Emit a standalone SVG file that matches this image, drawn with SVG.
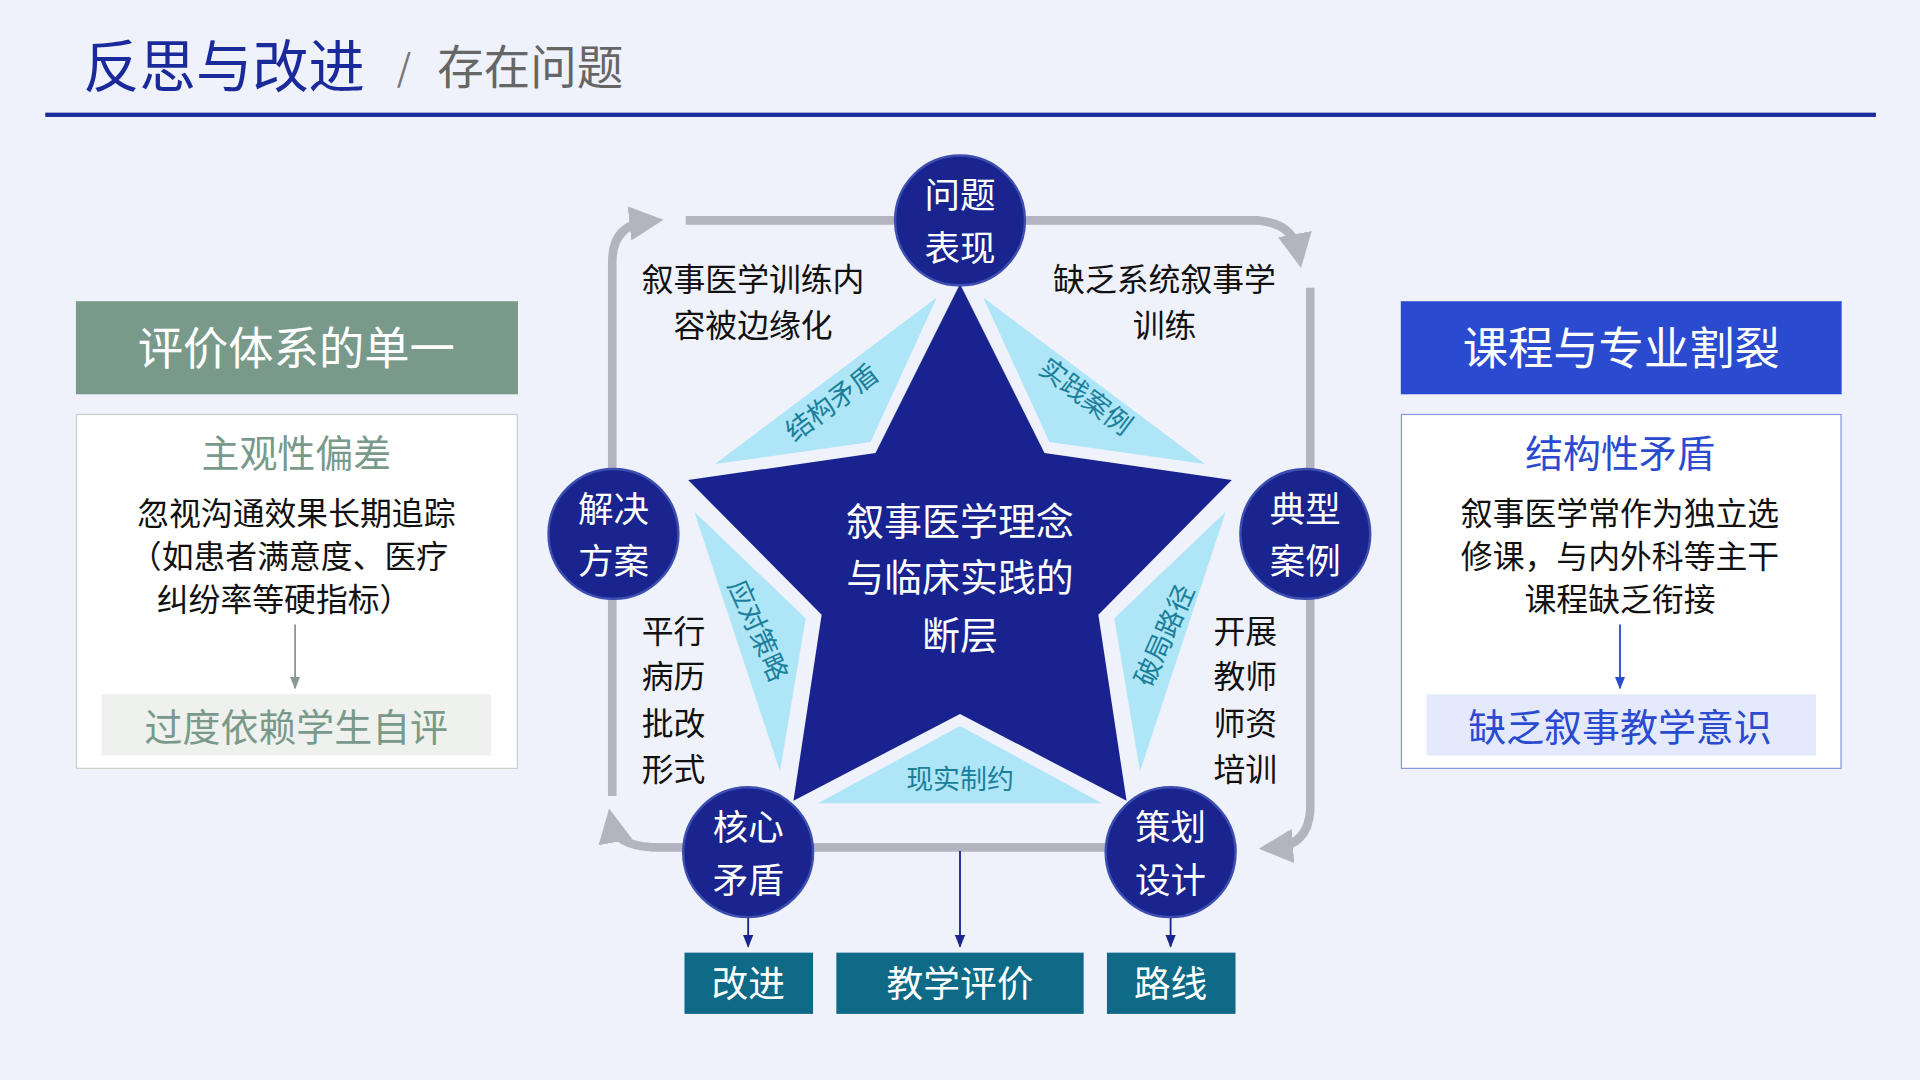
<svg xmlns="http://www.w3.org/2000/svg" width="1920" height="1080" viewBox="0 0 1920 1080">
<defs>
<style>
text{font-family:"Noto Sans CJK SC","Noto Sans",sans-serif;}
.w{fill:#fff;text-anchor:middle;}
.k{fill:#111;text-anchor:middle;font-size:26px;}
.t{fill:#1c7f9a;font-size:22px;text-anchor:middle;}
.node circle{fill:#19248e;stroke:#3d4db0;stroke-width:2;}
.node text{fill:#fff;font-size:29px;text-anchor:middle;}
.loop{fill:none;stroke:#b3b4bf;stroke-width:7;}
.sl{fill:#aee6f7;}
.bx{fill:#0e6a86;}
</style>
<marker id="ga" viewBox="0 0 10 10" refX="5" refY="5" markerWidth="4" markerHeight="4" orient="auto" markerUnits="strokeWidth"><path d="M0,0 L10,5 L0,10 Z" fill="#b3b4bf"/></marker>
<marker id="na" viewBox="0 0 10 10" refX="9" refY="5" markerWidth="7" markerHeight="7" orient="auto"><path d="M0,1 L10,5 L0,9 Z" fill="#1a2590"/></marker>
<marker id="gr" viewBox="0 0 10 10" refX="9" refY="5" markerWidth="7" markerHeight="7" orient="auto"><path d="M0,1 L10,5 L0,9 Z" fill="#8a9a92"/></marker>
<marker id="bl" viewBox="0 0 10 10" refX="9" refY="5" markerWidth="7" markerHeight="7" orient="auto"><path d="M0,1 L10,5 L0,9 Z" fill="#2a4bd0"/></marker>
</defs>
<rect width="1920" height="1080" fill="#eff1fb"/>
<g transform="scale(1.22449)">
<g id="title">
<text x="68" y="71" font-size="46" fill="#1a2a9a">反思与改进</text>
<text x="324" y="66" font-size="30" fill="#777">/</text>
<text x="357" y="69" font-size="38" fill="#666">存在问题</text>
<rect x="37" y="92" width="1495" height="3.5" fill="#1a2a9a"/>
</g>

<g id="left-panel">
<rect x="62" y="246" width="361" height="76" fill="#799a8b"/>
<text class="w" x="242" y="298" font-size="37">评价体系的单一</text>
<rect x="62.5" y="338.5" width="360" height="289" fill="#fff" stroke="#c9d0cc"/>
<text x="242" y="381" font-size="31" fill="#799a8b" text-anchor="middle">主观性偏差</text>
<text class="k" x="242" y="429" font-size="28">忽视沟通效果长期追踪</text>
<text class="k" x="236" y="464" font-size="28">（如患者满意度、医疗</text>
<text class="k" x="232" y="499" font-size="28">纠纷率等硬指标）</text>
<line x1="241" y1="510" x2="241" y2="562" stroke="#8a9a92" stroke-width="1.5" marker-end="url(#gr)"/>
<rect x="83" y="567" width="318" height="50" fill="#eef1ee"/>
<text x="242" y="605" font-size="31" fill="#799a8b" text-anchor="middle">过度依赖学生自评</text>
</g>

<g id="right-panel">
<rect x="1144" y="246" width="360" height="76" fill="#2a4bd0"/>
<text class="w" x="1324" y="298" font-size="37">课程与专业割裂</text>
<rect x="1144.5" y="338.5" width="359" height="289" fill="#fff" stroke="#8898d8"/>
<text x="1323" y="381" font-size="31" fill="#2a4bd0" text-anchor="middle">结构性矛盾</text>
<text class="k" x="1323" y="429" font-size="28">叙事医学常作为独立选</text>
<text class="k" x="1323" y="464" font-size="28">修课，与内外科等主干</text>
<text class="k" x="1323" y="499" font-size="28">课程缺乏衔接</text>
<line x1="1323" y1="510" x2="1323" y2="562" stroke="#2a4bd0" stroke-width="1.5" marker-end="url(#bl)"/>
<rect x="1165" y="567" width="318" height="50" fill="#e4e9fb"/>
<text x="1323" y="605" font-size="31" fill="#2a4bd0" text-anchor="middle">缺乏叙事教学意识</text>
</g>

<g id="connectors">
<path class="loop" d="M500,650 V214 Q500,184 528,181" marker-end="url(#ga)"/>
<path class="loop" d="M560,180 H1028 Q1056,183 1060,205" marker-end="url(#ga)"/>
<path class="loop" d="M1070,235 V662 Q1068,690 1042,692" marker-end="url(#ga)"/>
<path class="loop" d="M1010,692 H532 Q503,690 500,674" marker-end="url(#ga)"/>
<line x1="611" y1="748" x2="611" y2="773" stroke="#1a2590" stroke-width="1.5" marker-end="url(#na)"/>
<line x1="784" y1="695" x2="784" y2="773" stroke="#1a2590" stroke-width="1.5" marker-end="url(#na)"/>
<line x1="956" y1="748" x2="956" y2="773" stroke="#1a2590" stroke-width="1.5" marker-end="url(#na)"/>
</g>

<g id="star">
<polygon points="784,232 853,370 1006,392 897,502 920,654 784,583 648,654 671,502 562,392 715,370" fill="#19238f"/>
<polygon class="sl" points="765,243 584,379 711,361"/>
<polygon class="sl" points="803,243 984,379 857,361"/>
<polygon class="sl" points="567,418 658,505 637,630"/>
<polygon class="sl" points="1001,418 910,505 931,630"/>
<polygon class="sl" points="784,593 668,656 900,656"/>
<text class="t" transform="translate(684,335) rotate(-37)">结构矛盾</text>
<text class="t" transform="translate(882,330) rotate(37)">实践案例</text>
<text class="t" transform="translate(612,518) rotate(66)">应对策略</text>
<text class="t" transform="translate(958,522) rotate(-66)">破局路径</text>
<text class="t" x="784" y="644">现实制约</text>
<text class="w" x="784" y="437" font-size="31">叙事医学理念</text>
<text class="w" x="784" y="483" font-size="31">与临床实践的</text>
<text class="w" x="784" y="530" font-size="31">断层</text>
</g>

<g id="labels">
<text class="k" x="615" y="238">叙事医学训练内</text>
<text class="k" x="615" y="275">容被边缘化</text>
<text class="k" x="951" y="238">缺乏系统叙事学</text>
<text class="k" x="951" y="275">训练</text>
<text class="k" x="550" y="525">平行</text>
<text class="k" x="550" y="562">病历</text>
<text class="k" x="550" y="600">批改</text>
<text class="k" x="550" y="638">形式</text>
<text class="k" x="1017" y="525">开展</text>
<text class="k" x="1017" y="562">教师</text>
<text class="k" x="1017" y="600">师资</text>
<text class="k" x="1017" y="638">培训</text>
</g>

<g id="n-wenti" class="node"><circle cx="784" cy="180" r="53"/><text x="784" y="170">问题</text><text x="784" y="213">表现</text></g>
<g id="n-dianxing" class="node"><circle cx="1066" cy="436" r="53"/><text x="1066" y="426">典型</text><text x="1066" y="469">案例</text></g>
<g id="n-cehua" class="node"><circle cx="956" cy="696" r="53"/><text x="956" y="686">策划</text><text x="956" y="729">设计</text></g>
<g id="n-hexin" class="node"><circle cx="611" cy="696" r="53"/><text x="611" y="686">核心</text><text x="611" y="729">矛盾</text></g>
<g id="n-jiejue" class="node"><circle cx="501" cy="436" r="53"/><text x="501" y="426">解决</text><text x="501" y="469">方案</text></g>

<g id="b-gaijin"><rect class="bx" x="559" y="778" width="105" height="50"/><text class="w" x="611" y="814" font-size="30">改进</text></g>
<g id="b-pingjia"><rect class="bx" x="683" y="778" width="202" height="50"/><text class="w" x="784" y="814" font-size="30">教学评价</text></g>
<g id="b-luxian"><rect class="bx" x="904" y="778" width="105" height="50"/><text class="w" x="956" y="814" font-size="30">路线</text></g>
</g>
</svg>
